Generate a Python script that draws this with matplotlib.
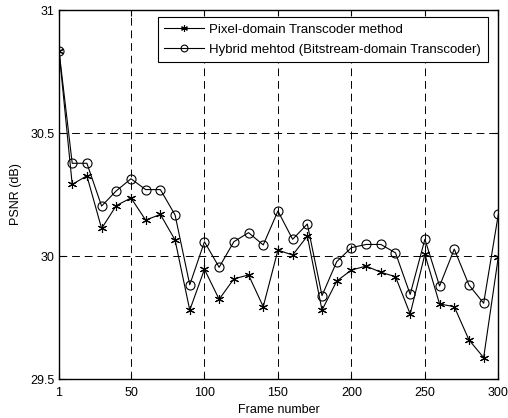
import matplotlib
matplotlib.use("Agg")
import matplotlib.pyplot as plt

frames = [1, 10, 20, 30, 40, 50, 60, 70, 80, 90, 100, 110, 120, 130, 140, 150,
          160, 170, 180, 190, 200, 210, 220, 230, 240, 250, 260, 270, 280, 290, 300]
pixel_psnr = [30.835, 30.291, 30.326, 30.112, 30.205, 30.236, 30.146, 30.169, 30.065, 29.780,
              29.946, 29.824, 29.907, 29.923, 29.794, 30.024, 30.004, 30.081, 29.780, 29.898,
              29.943, 29.959, 29.934, 29.916, 29.764, 30.007, 29.805, 29.794, 29.659, 29.587, 29.997]
hybrid_psnr = [30.835, 30.377, 30.377, 30.203, 30.265, 30.314, 30.270, 30.270, 30.167, 29.883,
               30.058, 29.954, 30.058, 30.095, 30.045, 30.183, 30.068, 30.130, 29.839, 29.977,
               30.034, 30.047, 30.047, 30.013, 29.844, 30.068, 29.878, 30.028, 29.882, 29.808, 30.170]
labels = ["Pixel-domain Transcoder method", "Hybrid mehtod (Bitstream-domain Transcoder)"]
xticks = [1, 50, 100, 150, 200, 250, 300]
yticks = [29.5, 30, 30.5, 31]

plt.rcParams['font.family'] = ['Liberation Sans', 'DejaVu Sans']
plt.rcParams['font.size'] = 9

fig = plt.figure(figsize=(5.08, 4.18), dpi=100)
ax = fig.add_axes([0.1161, 0.0933, 0.981 - 0.1161, 0.976 - 0.0933])

ax.plot(frames, pixel_psnr, color='black', lw=0.8, marker=(6, 2, 0), markersize=6.5,
        markeredgewidth=0.8, label=labels[0])
ax.plot(frames, hybrid_psnr, color='black', lw=0.8, marker='o', markersize=6.5,
        markerfacecolor='none', markeredgewidth=0.8, label=labels[1])

ax.set_xlim(1, 300)
ax.set_ylim(29.5, 31)
ax.set_xticks(xticks)
ax.set_xticklabels([str(t) for t in xticks])
ax.set_yticks(yticks)
ax.set_yticklabels(['29.5', '30', '30.5', '31'])
ax.tick_params(direction='in', length=4, width=0.8, top=True, right=True)
ax.tick_params(axis='x', pad=6)
ax.tick_params(axis='y', pad=3)
ax.grid(True, color='black', linestyle=(0, (8, 5)), linewidth=0.7)
for s in ax.spines.values():
    s.set_linewidth(1.0)
    s.set_color('black')

ax.set_xlabel('Frame number', labelpad=3)
ax.set_ylabel('PSNR (dB)', labelpad=6)

leg = ax.legend(loc='upper right', bbox_to_anchor=(0.9755, 0.9815), fancybox=False,
                edgecolor='black', framealpha=1, handlelength=3.0, borderpad=0.5,
                labelspacing=0.6, handletextpad=0.4, borderaxespad=0, markerscale=0.75,
                prop={'size': 9.5})
leg.get_frame().set_linewidth(0.8)

fig.savefig('out.png', dpi=100)
